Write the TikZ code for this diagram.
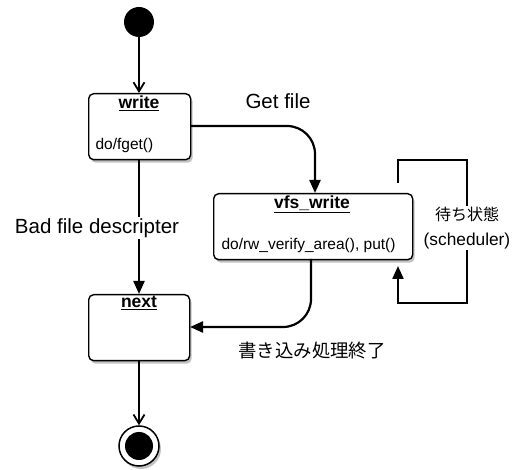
\documentclass[tikz,border=0pt]{standalone}
\usepackage{fontspec}
\setmainfont{Liberation Sans}
\newfontfamily\jpfont{Noto Sans CJK JP}
\usetikzlibrary{arrows.meta,shadows,positioning}
\begin{document}
\begin{tikzpicture}[x=1pt,y=-1pt,
  statebox/.style={draw,line width=1.4pt,rounded corners=5pt,fill=white,
    drop shadow={shadow xshift=2pt,shadow yshift=-3pt,opacity=0.4,fill=black!60},
    minimum width=#1,inner sep=0pt,anchor=north west},
  flow/.style={line width=2.2pt,-{Triangle[length=13pt,width=11pt]}},
  open/.style={line width=2.2pt,-{Straight Barb[length=9pt,width=11pt,line width=1.8pt]}},
  lbl/.style={font=\fontsize{20.5}{24}\selectfont,inner sep=1pt},
  ttl/.style={font=\fontsize{17.5}{20}\selectfont\bfseries},
  body/.style={font=\fontsize{15.5}{17}\selectfont}]
\useasboundingbox (0,0) rectangle (512,470);
% initial
\node[circle,fill=black,minimum size=30pt,inner sep=0pt] (init) at (139,22) {};
% write box
\node[statebox=102pt,minimum height=66pt] (write) at (88,93) {};
\node[ttl,anchor=north] (writet) at (139,92) {\underline{write}};
\node[body,anchor=west] (writeb) at (92,145) {do/fget()};
% vfs_write box
\node[statebox=199pt,minimum height=66pt] (vfs) at (213,193) {};
\node[ttl,anchor=north] (vfst) at (312,192) {\underline{vfs\_write}};
\node[body,anchor=west] (vfsb) at (218,245) {do/rw\_verify\_area(), put()};
% next box
\node[statebox=101pt,minimum height=66pt] (next) at (88,294) {};
\node[ttl,anchor=north] (nextt) at (139,293) {\underline{next}};
% final
\node[circle,draw,line width=1.5pt,fill=white,minimum size=40pt,inner sep=0pt,
  drop shadow={shadow xshift=2pt,shadow yshift=-3pt,opacity=0.4,fill=black!60}] (final) at (139,446) {};
\node[circle,fill=black,minimum size=28pt,inner sep=0pt] (finalin) at (final.center) {};
% connectors
\coordinate (wr) at (190,126);
\coordinate (vt) at (315,193);
\draw[open] (init.south) -- (write.north -| init.south);
\draw[open] (next.south -| final.north) -- (final.north);
\draw[flow,rounded corners=28pt] (wr) -- (315,126) -- (vt);
\node[lbl] (getfile) at (278,101) {Get file};
\coordinate (wb) at (139,159);
\draw[flow] (wb) -- (next.north -| wb);
\node[lbl,fill=white] (bad) at (97,228) {Bad file descripter};
\coordinate (vb) at (311,259);
\coordinate (nr) at (190,327);
\draw[flow,rounded corners=28pt] (vb) -- (311,327) -- (nr);
\node[lbl,font=\fontsize{18.4}{22}\selectfont] (done) at (312,351) {\jpfont 書き込み処理終了};
\coordinate (ls) at (398,183);
\coordinate (le) at (398,266);
\draw[flow] (ls) -- (398,160) -- (467,160) -- (467,303) -- (398,303) -- (le);
\node[lbl,fill=white,align=center,font=\fontsize{17.3}{25}\selectfont] (wait) at (467,228) {{\jpfont\fontsize{16}{25}\selectfont 待ち状態}\\(scheduler)};
\end{tikzpicture}
\end{document}
